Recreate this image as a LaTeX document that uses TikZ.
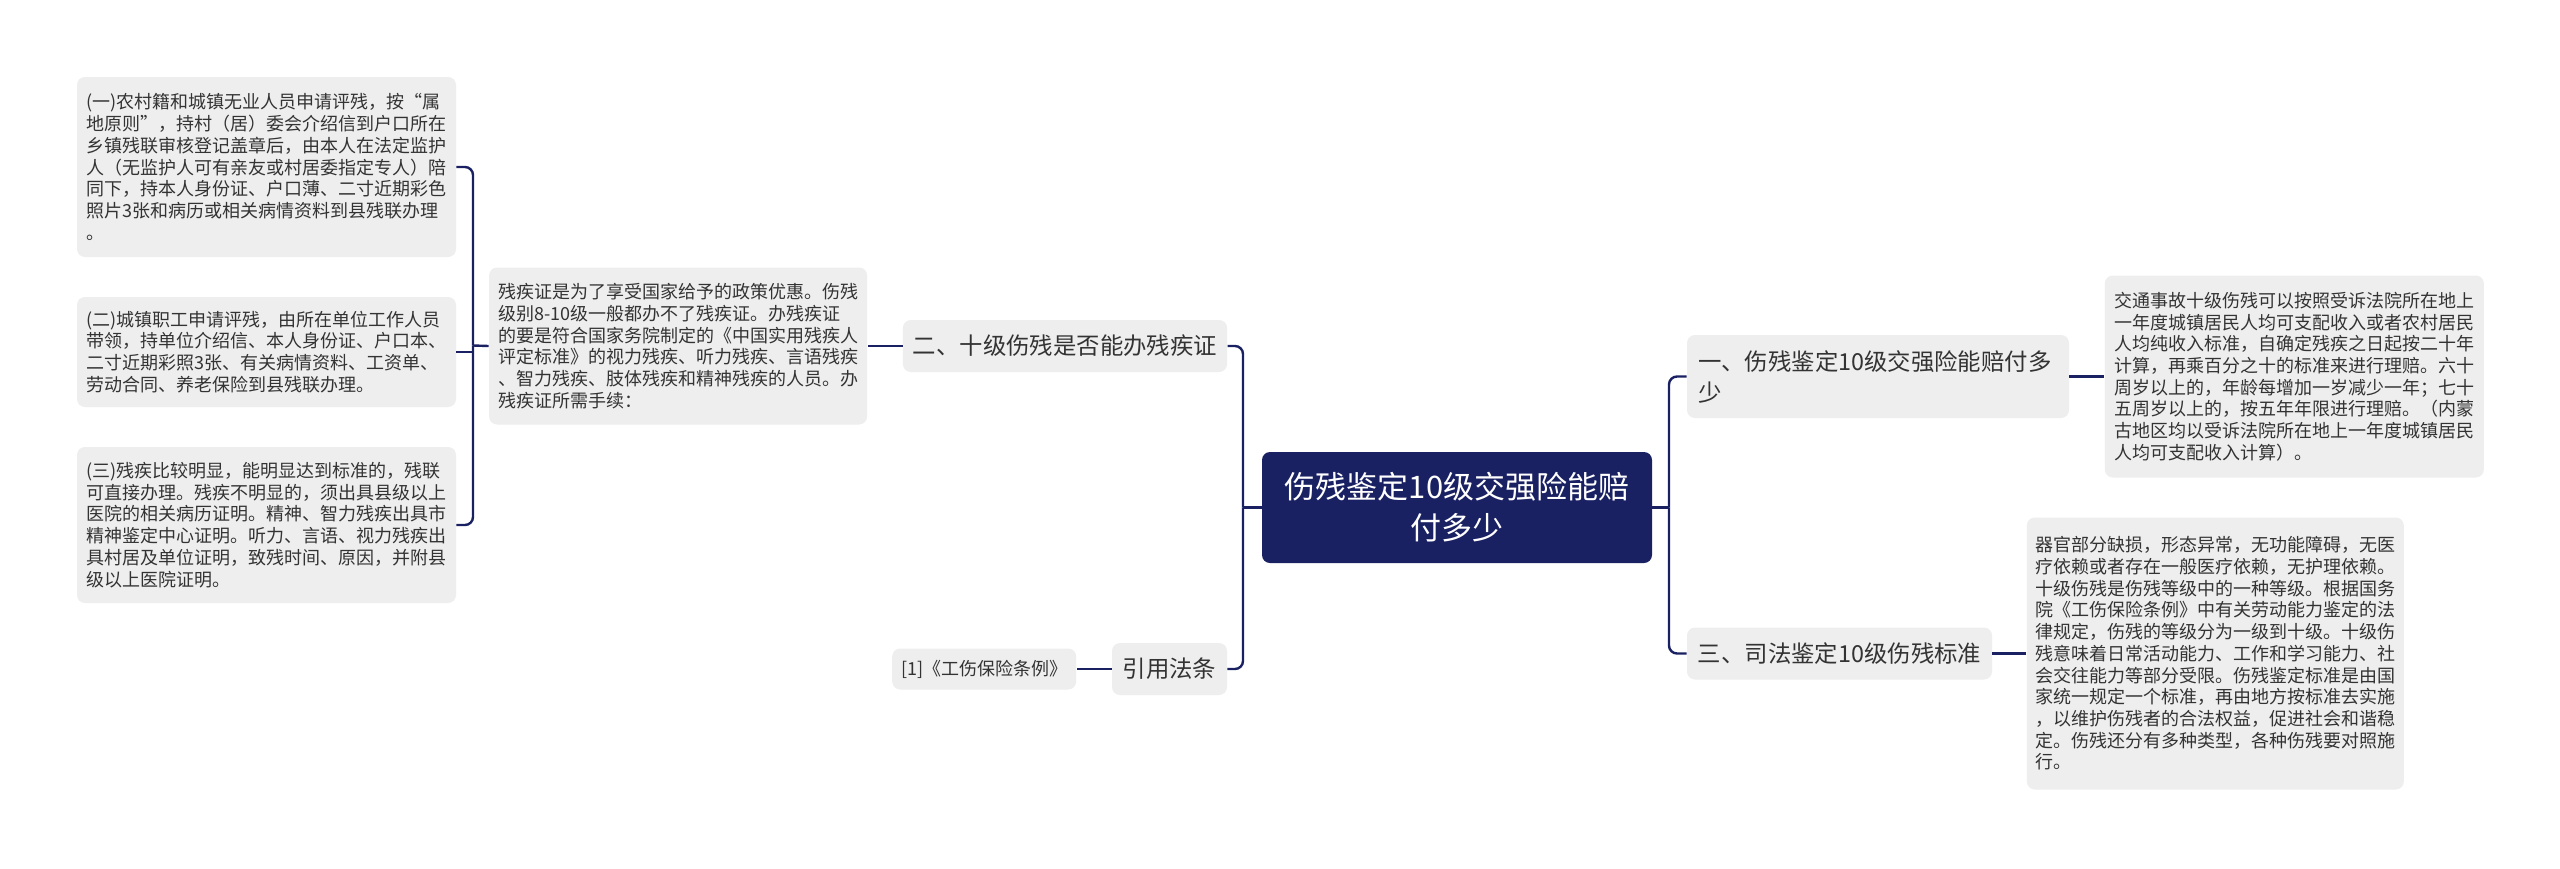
\documentclass[tikz,border=0pt]{standalone}
\usepackage{fontspec}
\setmainfont{Noto Sans CJK SC}
\usepackage{xcolor}
\usepackage{tikz}
\usetikzlibrary{positioning}
\definecolor{navy}{RGB}{26,33,98}
\definecolor{boxgray}{RGB}{238,238,238}
\definecolor{darktext}{RGB}{51,51,51}
\tikzset{
  rootbox/.style={fill=navy, rounded corners=4pt, text=white, align=center,
    font=\fontsize{15.5}{20.5}\selectfont, minimum width=195pt, minimum height=55.5pt, inner sep=0pt},
  branchbox/.style={fill=boxgray, rounded corners=4pt, text=darktext, align=left,
    font=\fontsize{11.7}{15.5}\selectfont, inner xsep=5pt, minimum height=26pt},
  notebox/.style={fill=boxgray, rounded corners=4pt, text=darktext, align=left,
    font=\fontsize{9}{10.85}\selectfont, text width=180pt, inner xsep=4pt, minimum width=189.5pt},
  refbox/.style={fill=boxgray, rounded corners=4pt, text=darktext,
    font=\fontsize{9}{10.85}\selectfont, minimum width=92pt, minimum height=20.5pt},
  link/.style={draw=navy, line width=1.2pt, rounded corners=4pt}
}

\begin{document}
\begin{tikzpicture}[x=0.5pt, y=-0.5pt]
\fill[white] (0,0) rectangle (2560,868);
\useasboundingbox (0,0) rectangle (2560,868);
\node[rootbox] (r) at (1457,507.5) {伤残鉴定10级交强险能赔\\付多少};
\node[branchbox, text width=180pt, minimum width=191pt, minimum height=41.5pt] (b1) at (1878,376.5) {一、伤残鉴定10级交强险能赔付多\\少};
\node[branchbox, minimum width=152.5pt] (b4) at (1839.5,653.5) {三、司法鉴定10级伤残标准};
\node[branchbox, minimum width=162pt] (b2) at (1065,346) {二、十级伤残是否能办残疾证};
\node[branchbox, minimum width=57.5pt] (b3) at (1169.5,669) {引用法条};
\node[notebox, minimum height=101pt, right=17.5pt of b1] (n4) {交通事故十级伤残可以按照受诉法院所在地上\\一年度城镇居民人均可支配收入或者农村居民\\人均纯收入标准，自确定残疾之日起按二十年\\计算，再乘百分之十的标准来进行理赔。六十\\周岁以上的，年龄每增加一岁减少一年；七十\\五周岁以上的，按五年年限进行理赔。（内蒙\\古地区均以受诉法院所在地上一年度城镇居民\\人均可支配收入计算）。};
\node[notebox, minimum width=188.5pt, minimum height=136pt, right=17pt of b4] (n5) {器官部分缺损，形态异常，无功能障碍，无医\\疗依赖或者存在一般医疗依赖，无护理依赖。\\十级伤残是伤残等级中的一种等级。根据国务\\院《工伤保险条例》中有关劳动能力鉴定的法\\律规定，伤残的等级分为一级到十级。十级伤\\残意味着日常活动能力、工作和学习能力、社\\会交往能力等部分受限。伤残鉴定标准是由国\\家统一规定一个标准，再由地方按标准去实施\\，以维护伤残者的合法权益，促进社会和谐稳\\定。伤残还分有多种类型，各种伤残要对照施\\行。};
\node[notebox, minimum width=189pt, minimum height=78.5pt, left=17.5pt of b2] (p) {残疾证是为了享受国家给予的政策优惠。伤残\\级别8-10级一般都办不了残疾证。办残疾证\\的要是符合国家务院制定的《中国实用残疾人\\评定标准》的视力残疾、听力残疾、言语残疾\\、智力残疾、肢体残疾和精神残疾的人员。办\\残疾证所需手续：};
\node[refbox, left=17.5pt of b3] (l) {[1]《工伤保险条例》};
\node[notebox, minimum height=90pt] (n1) at (266.5,167) {(一)农村籍和城镇无业人员申请评残，按“属\\地原则”，持村（居）委会介绍信到户口所在\\乡镇残联审核登记盖章后，由本人在法定监护\\人（无监护人可有亲友或村居委指定专人）陪\\同下，持本人身份证、户口薄、二寸近期彩色\\照片3张和病历或相关病情资料到县残联办理\\。};
\node[notebox, minimum height=55pt] (n2) at (266.5,352) {(二)城镇职工申请评残，由所在单位工作人员\\带领，持单位介绍信、本人身份证、户口本、\\二寸近期彩照3张、有关病情资料、工资单、\\劳动合同、养老保险到县残联办理。};
\node[notebox, minimum height=78pt] (n3) at (266.5,525) {(三)残疾比较明显，能明显达到标准的，残联\\可直接办理。残疾不明显的，须出具县级以上\\医院的相关病历证明。精神、智力残疾出具市\\精神鉴定中心证明。听力、言语、视力残疾出\\具村居及单位证明，致残时间、原因，并附县\\级以上医院证明。};

\coordinate (ls) at (1243,507.5);
\coordinate (rs) at (1669,507.5);
\coordinate (ps) at (473,345.5);

\draw[link] (r.west) -- (ls);
\draw[link] (b2.east) -| (ls);
\draw[link] (b3.east) -| (ls);
\draw[link] (r.east) -- (rs);
\draw[link] (b1.west) -| (rs);
\draw[link] (b4.west) -| (rs);
\draw[link] (b1) -- (n4);
\draw[link] (b4) -- (n5);
\draw[link] (b2) -- (p);
\draw[link] (b3) -- (l);
\draw[link] (p.west) -- (ps);
\draw[link] (n1.east) -| (ps);
\draw[link] (n2.east) -- (n2.east -| ps);
\draw[link] (n3.east) -| (ps);
\end{tikzpicture}
\end{document}
